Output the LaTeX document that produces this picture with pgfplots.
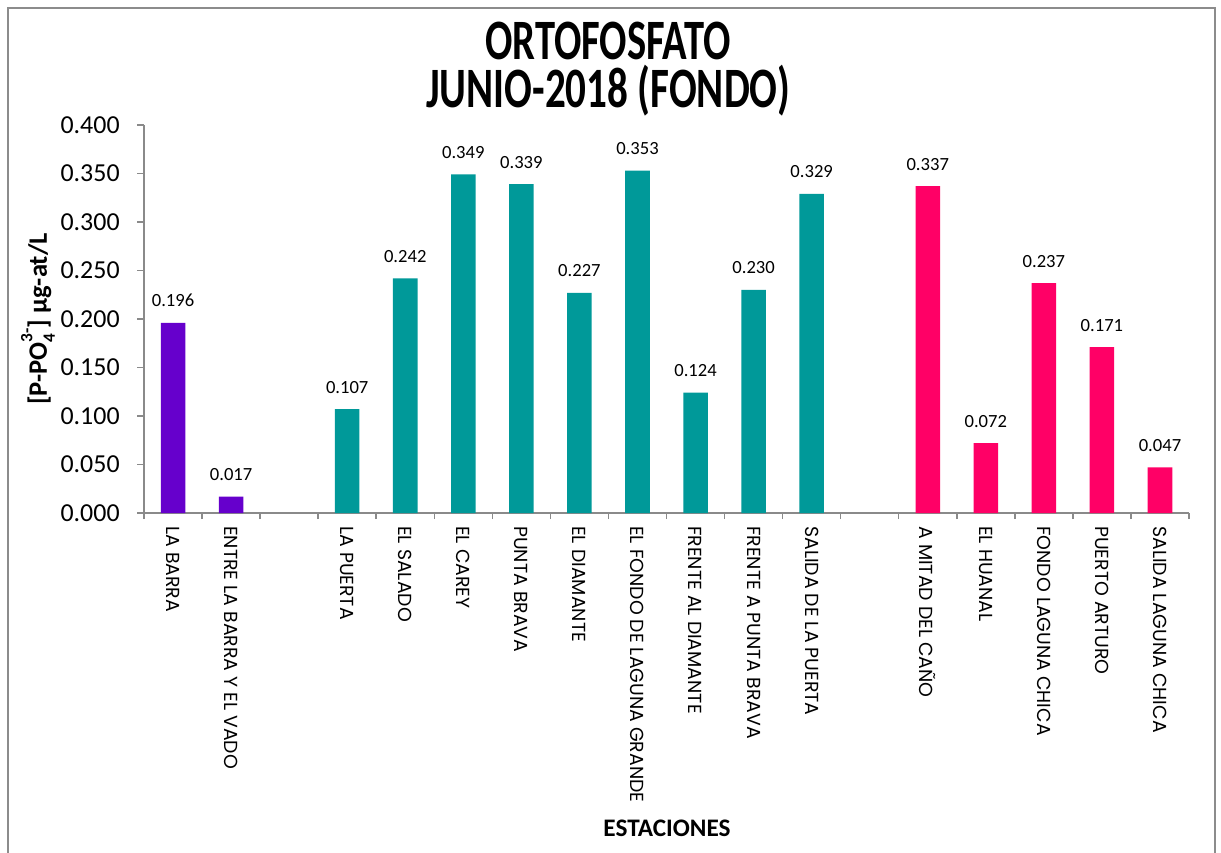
\documentclass[border=0pt]{standalone}
\usepackage{pgfplots}
\pgfplotsset{compat=1.18}
\usepackage{fontspec}
\setmainfont{Carlito}
\newfontfamily\catfont{Poppins}
\definecolor{cpurple}{HTML}{6600CC}
\definecolor{cteal}{HTML}{009999}
\definecolor{cpink}{HTML}{FF0066}
\definecolor{axgray}{HTML}{8A8A8A}
\definecolor{bordergray}{HTML}{8C8C8C}
\begin{document}
\begin{tikzpicture}[x=0.75bp,y=-0.75bp]
\path[use as bounding box, fill=white] (0,0) rectangle (1221,852);
\draw[bordergray, line width=1.5bp] (7.5,900) -- (7.5,7.5) -- (1215,7.5) -- (1215,900);
\begin{axis}[
  at={(108bp,-384.75bp)}, anchor=south west,
  scale only axis, width=783.75bp, height=291bp,
  xmin=-0.5, xmax=17.5, ymin=0, ymax=0.4,
  axis lines*=left,
  axis line style={draw=axgray, line width=1.1bp},
  every tick/.style={draw=axgray, line width=1.1bp},
  tick align=outside,
  xtick={0,...,17},
  xticklabels={LA BARRA,ENTRE LA BARRA Y EL VADO,,LA PUERTA,EL SALADO,EL CAREY,PUNTA BRAVA,EL DIAMANTE,EL FONDO DE LAGUNA GRANDE,FRENTE AL DIAMANTE,FRENTE A PUNTA BRAVA,SALIDA DE LA PUERTA,,A MITAD DEL CAÑO,EL HUANAL,FONDO LAGUNA CHICA,PUERTO ARTURO,SALIDA LAGUNA CHICA},
  major x tick style={draw=none},
  minor xtick={-0.5,0.5,...,17.5},
  minor tick length=4.5bp,
  major tick length=5.25bp,
  xticklabel style={rotate=-90, anchor=west, inner sep=0pt, font=\catfont\fontsize{14.2}{14.2}\selectfont, xshift=4.5bp},
  ytick={0,0.05,0.1,0.15,0.2,0.25,0.3,0.35,0.4},
  yticklabel style={font=\fontsize{19.5}{19.5}\selectfont, xshift=-9.5bp, /pgf/number format/.cd, fixed, fixed zerofill, precision=3, assume math mode=true},
  scaled y ticks=false,
  ybar, bar width=18.4bp,
  nodes near coords={\pgfmathprintnumber[fixed,fixed zerofill,precision=3,assume math mode=true]{\pgfplotspointmeta}},
  nodes near coords style={font=\fontsize{14}{14}\selectfont, anchor=base, inner sep=0pt, yshift=12bp, text=black},
  clip=false,
]
\addplot[fill=cpurple, draw=none, bar shift=0pt] coordinates {(0,0.196) (1,0.017)};
\addplot[fill=cteal, draw=none, bar shift=0pt] coordinates {(3,0.107) (4,0.242) (5,0.349) (6,0.339) (7,0.227) (8,0.353) (9,0.124) (10,0.230) (11,0.329)};
\addplot[fill=cpink, draw=none, bar shift=0pt] coordinates {(13,0.337) (14,0.072) (15,0.237) (16,0.171) (17,0.047)};
\end{axis}
\node[anchor=base, inner sep=0pt, align=center, font=\fontsize{43}{36bp}\selectfont\bfseries] at (608,107) {\scalebox{0.71}[1]{ORTOFOSFATO}\\\scalebox{0.72}[1]{JUNIO-2018 (FONDO)}};
\node[rotate=90, inner sep=0pt, font=\fontsize{20}{20}\selectfont\bfseries] at (38,319) {[P-PO\rlap{\raisebox{-0.3em}{\fontsize{13}{13}\selectfont 4}}\raisebox{0.55em}{\fontsize{13}{13}\selectfont 3-}] µg-at/L};
\node[inner sep=0pt, font=\fontsize{19}{19}\selectfont\bfseries] at (667,828) {ESTACIONES};
\end{tikzpicture}
\end{document}
